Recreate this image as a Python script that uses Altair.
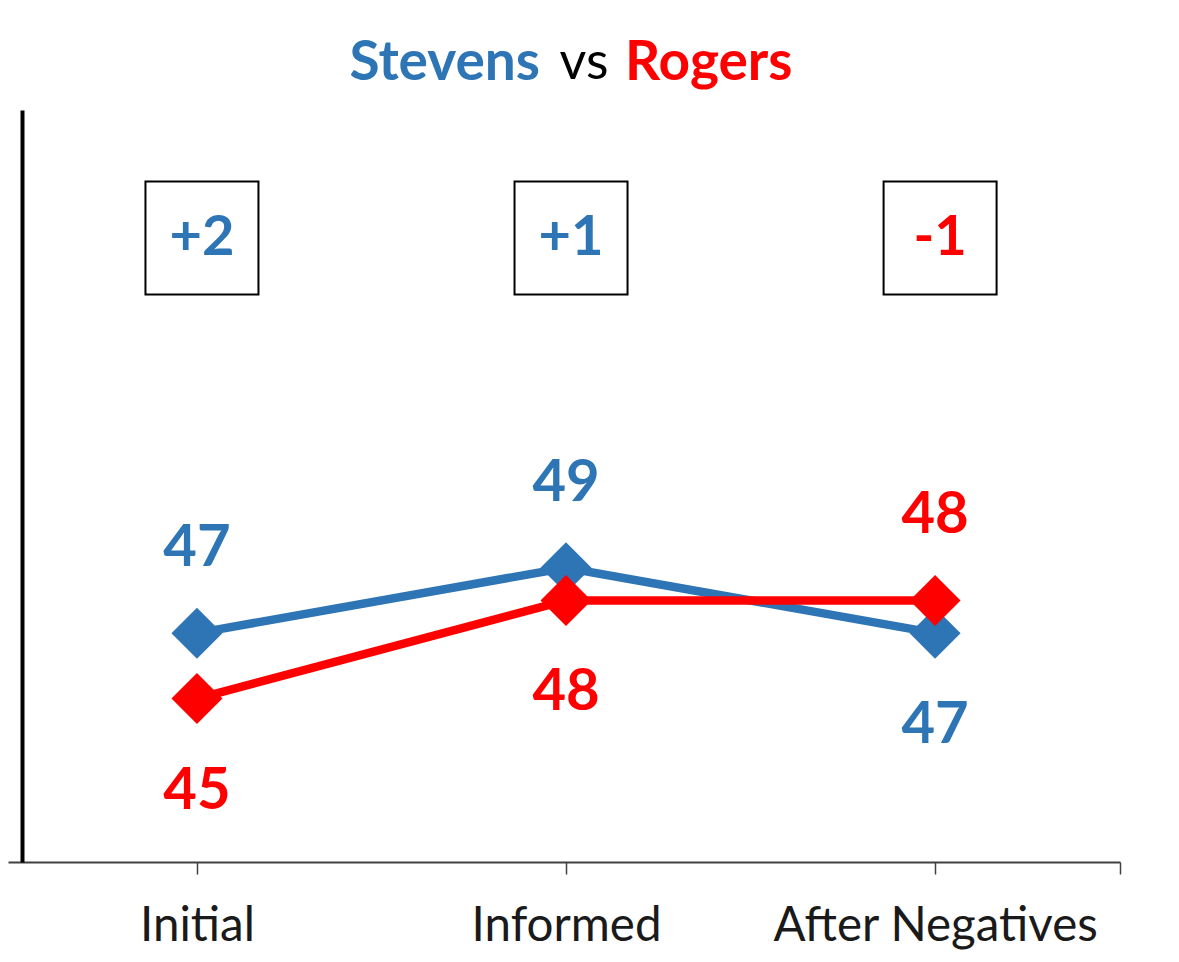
import altair as alt
import pandas as pd

categories = ["Initial", "Informed", "After Negatives"]
stevens = [47, 49, 47]
rogers = [45, 48, 48]
margins = ["+2", "+1", "-1"]
stevens_label_pos = ["above", "above", "below"]
rogers_label_pos = ["below", "below", "above"]

BLUE = "#2E75B6"
RED = "#FF0000"
FONT = "Lato"

rows = []
for i, c in enumerate(categories):
    rows.append({"idx": i, "cat": c, "series": "Stevens", "value": stevens[i], "pos": stevens_label_pos[i]})
    rows.append({"idx": i, "cat": c, "series": "Rogers", "value": rogers[i], "pos": rogers_label_pos[i]})
df = pd.DataFrame(rows)

mdf = pd.DataFrame({"idx": list(range(len(categories))), "margin": margins})
mdf["winner"] = ["Stevens" if m.startswith("+") else "Rogers" for m in margins]

label_expr = "datum.value == 2.5 ? '' : ['" + "','".join(categories) + "'][datum.value]"

xscale = alt.Scale(domain=[-0.512, 2.501], nice=False, zero=False)
yscale = alt.Scale(domain=[40, 63], nice=False, zero=False)
color = alt.Color("series:N", scale=alt.Scale(domain=["Stevens", "Rogers"], range=[BLUE, RED]), legend=None)

xenc = alt.X("idx:Q", scale=xscale, title=None,
             axis=alt.Axis(values=[0, 1, 2, 2.5], labelExpr=label_expr, grid=False,
                           domainColor="#404040", domainWidth=2, tickColor="#404040",
                           tickWidth=1.5, tickSize=12, labelFont=FONT, labelFontSize=47.5,
                           labelColor="#1a1a1a", labelPadding=28, labelOverlap=False,
                           labelFlush=False, labelLimit=1000))
yenc = alt.Y("value:Q", scale=yscale, title=None,
             axis=alt.Axis(labels=False, ticks=False, grid=False, domainColor="black",
                           domainWidth=4, offset=-14))

base = alt.Chart(df)
lines = base.mark_line(strokeWidth=8.5).encode(x=xenc, y=yenc, color=color, detail="series:N")
points = base.mark_point(shape="diamond", filled=True, size=2600, opacity=1).encode(
    x=alt.X("idx:Q", scale=xscale), y=alt.Y("value:Q", scale=yscale), color=color)
above = base.transform_filter("datum.pos == 'above'").mark_text(
    font=FONT, fontWeight="bold", fontSize=58, dy=-84, baseline="middle").encode(
    x=alt.X("idx:Q", scale=xscale), y=alt.Y("value:Q", scale=yscale), text="value:Q", color=color)
below = base.transform_filter("datum.pos == 'below'").mark_text(
    font=FONT, fontWeight="bold", fontSize=58, dy=93, baseline="middle").encode(
    x=alt.X("idx:Q", scale=xscale), y=alt.Y("value:Q", scale=yscale), text="value:Q", color=color)

boxes = alt.Chart(mdf).mark_point(shape="square", filled=True, fill="white", stroke="black",
                                  strokeWidth=2, size=113 * 113, opacity=1, xOffset=5).encode(
    x=alt.X("idx:Q", scale=xscale), y=alt.value(128))
box_text = alt.Chart(mdf).mark_text(font=FONT, fontWeight="bold", fontSize=56, baseline="middle", dx=5).encode(
    x=alt.X("idx:Q", scale=xscale), y=alt.value(128), text="margin:N",
    color=alt.Color("winner:N", scale=alt.Scale(domain=["Stevens", "Rogers"], range=[BLUE, RED]), legend=None))

tdf = pd.DataFrame({"t": ["Stevens vs Rogers"]})
t1 = alt.Chart(tdf).mark_text(text="Stevens", font=FONT, fontWeight="bold", fontSize=55, color=BLUE,
                              align="right", baseline="middle").encode(x=alt.value(532), y=alt.value(-47))
t2 = alt.Chart(tdf).mark_text(text="vs", font=FONT, fontSize=52, color="black",
                              align="center", baseline="middle").encode(x=alt.value(576), y=alt.value(-47))
t3 = alt.Chart(tdf).mark_text(text="Rogers", font=FONT, fontWeight="bold", fontSize=55, color=RED,
                              align="left", baseline="middle").encode(x=alt.value(617), y=alt.value(-47))

chart = alt.layer(lines, points, above, below, boxes, box_text, t1, t2, t3).properties(
    width=1112, height=752,
    autosize=alt.AutoSizeParams(type="none"),
    padding={"left": 0, "top": 102, "right": 40, "bottom": 90},
    view=alt.ViewBackground(strokeOpacity=0, strokeWidth=0),
).configure_view(strokeOpacity=0, strokeWidth=0).configure(background="white")

chart.save("out.html", embed_options={"renderer": "svg", "actions": False})
